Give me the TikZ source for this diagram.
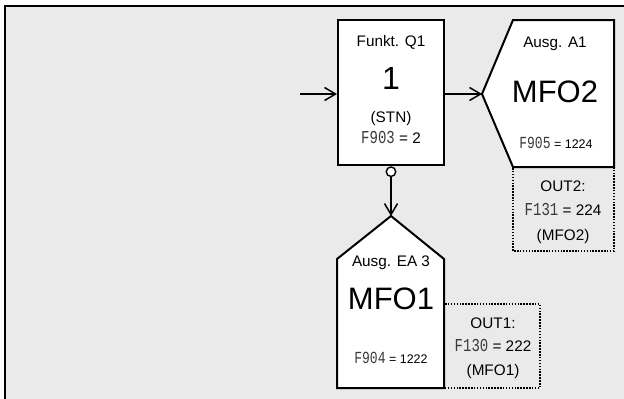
\documentclass[tikz,border=0pt]{standalone}
\usepackage{fontspec}
\usepackage{graphicx}
\setmainfont{Liberation Sans}
\newfontfamily\lcdfont{Liberation Mono}
\usetikzlibrary{arrows.meta}
\definecolor{bggray}{HTML}{EAEAEA}
\definecolor{lcdgray}{HTML}{3A3A3A}
\newcommand{\lcd}[2][13]{{\lcdfont\fontsize{#1}{#1}\selectfont\color{lcdgray}\scalebox{1}[1.3]{#2}}}
\tikzset{
  frameline/.style={line width=2pt},
  blockline/.style={line width=2pt, draw=black, fill=white},
  dotline/.style={line width=1.6pt, dash pattern=on 1.5pt off 1.4pt},
  arr/.style={line width=1.5pt, -{Straight Barb[length=11pt,width=13pt,line width=1.5pt]}},
  txt/.style={anchor=base, inner sep=0pt, font=\fontsize{15.3}{16}\selectfont},
  bigtxt/.style={anchor=base, inner sep=0pt, font=\fontsize{31}{32}\selectfont},
  smalltxt/.style={anchor=base, inner sep=0pt, font=\fontsize{12.5}{13}\selectfont},
}
\begin{document}
\begin{tikzpicture}[x=1pt,y=-1pt]
\useasboundingbox (0,0) rectangle (624,399);
\fill[white] (0,0) rectangle (624,399);
\fill[bggray] (5,6) rectangle (624,399);
\draw[frameline] (5,399) -- (5,6) -- (624,6);

% Q1 block
\node[blockline, rectangle, minimum width=106pt, minimum height=145pt, inner sep=0pt] (q1) at (391,92.5) {};
\node[txt] (q1t1) at (391,46) {Funkt. Q1};
\node[anchor=base, inner sep=0pt, font=\fontsize{32}{33}\selectfont] (q1t2) at (391,89) {1};
\node[txt] (q1t3) at (391,122) {(STN)};
\node[txt] (q1t4) at (391,143) {\lcd[14]{F903} = 2};

% A1 block (pointed left)
\draw[blockline, line join=miter] (482,94) -- (513,20) -- (614,20) -- (614,167) -- (513,167) -- cycle;
\coordinate (a1tip) at (482,94);
\node[txt] (a1t1) at (555,47) {Ausg. A1};
\node[bigtxt] (a1t2) at (555,102) {MFO2};
\node[smalltxt] (a1t3) at (556,148) {\lcd{F905} = 1224};

% OUT2 box
\draw[dotline] (513,168) -- (513,251) -- (614,251) -- (614,168);
\node[txt] (o2t1) at (563,191) {OUT2:};
\node[txt] (o2t2) at (563,215) {\lcd[14]{F131} = 224};
\node[txt] (o2t3) at (563,240) {(MFO2)};

% EA3 block (pointed top)
\draw[blockline, line join=miter] (391,216) -- (444,259) -- (444,388) -- (337,388) -- (337,259) -- cycle;
\coordinate (ea3top) at (391,216);
\node[txt] (e3t1) at (391,266) {Ausg. EA 3};
\node[bigtxt] (e3t2) at (391,309) {MFO1};
\node[smalltxt] (e3t3) at (391,363) {\lcd{F904} = 1222};

% OUT1 box
\draw[dotline] (445,304) -- (540,304) -- (540,388) -- (445,388);
\node[txt] (o1t1) at (493,328) {OUT1:};
\node[txt] (o1t2) at (493,351) {\lcd[14]{F130} = 222};
\node[txt] (o1t3) at (493,375) {(MFO1)};

% connectors
\coordinate (in) at (300,94);
\draw[arr] (in) -- (in -| q1.west);
\draw[arr] (q1.east |- a1tip) -- (a1tip);
\node[circle, draw, fill=white, line width=1.4pt, minimum size=9.5pt, inner sep=0pt] (c) at (391,171.7) {};
\draw[arr] (c.south) -- (ea3top);
\end{tikzpicture}
\end{document}
